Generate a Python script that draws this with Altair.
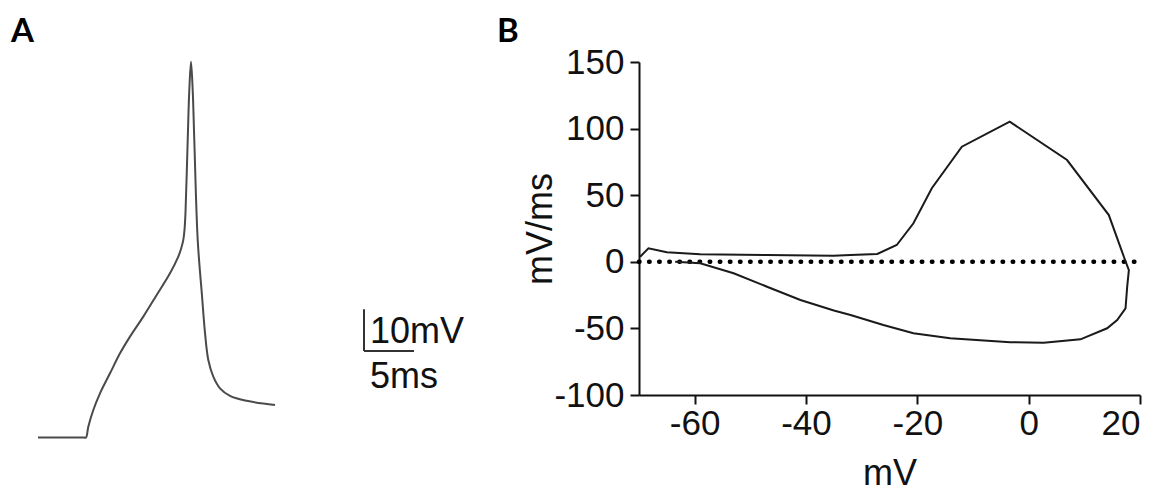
import altair as alt
import pandas as pd

# ---------------- Panel A: action potential trace (time in ms, voltage in mV)
ap_time_ms = [0.0, 2.4, 4.6, 4.8, 5.03, 5.53, 6.2, 7.2, 8.2, 9.2, 10.53, 11.87, 13.2,
              14.03, 14.3, 14.53, 14.65, 14.75, 14.97, 15.13, 15.3, 15.47, 15.63,
              15.97, 16.4, 16.7, 17.03, 17.53, 18.2, 19.2, 20.87, 23.7]
ap_mv = [-70.0, -70.0, -70.0, -70.0, -67.4, -63.4, -59.4, -54.6, -49.8, -45.8,
         -41.0, -35.8, -30.6, -26.6, -24.8, -22.6, -20.2, -16.0, 1.3, 13.3, 20.1,
         13.3, 1.3, -22.6, -36.0, -44.9, -51.4, -55.4, -58.2, -60.0, -61.2, -62.2]

# scale bar: 5 ms x 10 mV
bar_t0, bar_v0 = 32.6, -49.26
bar_dt, bar_dv = 5.0, 10.0
bar_labels = ["10mV", "5ms"]

# ---------------- Panel B: phase plot (dV/dt vs V)
phase_mv = [-69.8, -68.3, -65.0, -59.0, -47.0, -35.1, -32.0, -27.2, -23.7, -20.7,
            -17.4, -12.0, -3.4, 6.9, 14.4, 17.1, 18.0, 17.7, 17.4, 15.9, 14.1,
            9.3, 2.7, -3.3, -14.1, -20.7, -26.1, -32.0, -35.0, -41.0, -47.0,
            -53.0, -59.0, -63.5]
phase_dvdt = [3.8, 10.1, 7.1, 5.6, 5.1, 4.6, 5.1, 5.9, 12.6, 28.9, 55.2, 86.4,
              105.2, 76.4, 35.1, 3.8, -6.2, -18.7, -34.9, -43.7, -49.9, -58.2,
              -60.7, -60.4, -57.4, -53.7, -47.4, -39.9, -36.5, -28.7, -18.7,
              -8.6, -1.1, 0.0]
x_ticks = [-60, -40, -20, 0, 20]
y_ticks = [-100, -50, 0, 50, 100, 150]
panel_letters = ["A", "B"]

FONT = "Liberation Sans"

# ---------- panel B (primary frame)
df_phase = pd.DataFrame({"mv": phase_mv, "dvdt": phase_dvdt,
                         "order": list(range(len(phase_mv)))})
xb_scale = alt.Scale(domain=[-70, 20], nice=False, zero=False)
yb_scale = alt.Scale(domain=[-100, 150], nice=False, zero=False)

xb_axis = alt.Axis(values=x_ticks, title="mV", orient="bottom",
                   labelExpr="toString(datum.value)", labelPadding=2,
                   titleBaseline="alphabetic", titleY=89)
yb_axis = alt.Axis(values=y_ticks, title="mV/ms", orient="left",
                   labelExpr="toString(datum.value)", labelPadding=6,
                   titleX=-80)

phase_line = alt.Chart(df_phase).mark_line(color="#1a1a1a", strokeWidth=2).encode(
    x=alt.X("mv:Q", scale=xb_scale, axis=xb_axis),
    y=alt.Y("dvdt:Q", scale=yb_scale, axis=yb_axis),
    order="order:Q",
)

df_zero = pd.DataFrame({"x0": [-70], "x1": [20], "y": [0]})
zero_line = alt.Chart(df_zero).mark_rule(
    color="#000000", strokeWidth=4.5, strokeDash=[0.5, 9.6], strokeCap="round"
).encode(
    x=alt.X("x0:Q", scale=xb_scale),
    x2="x1:Q",
    y=alt.Y("y:Q", scale=yb_scale),
)

df_letters = pd.DataFrame({"lab": panel_letters, "px": [-628, -142]})
letters = alt.Chart(df_letters).mark_text(
    font="Lato", fontWeight="bold", fontSize=33, align="left",
    baseline="alphabetic", color="black"
).encode(
    x=alt.X("px:Q", scale=None),
    y=alt.value(-20),
    text="lab:N",
)

panel_b = alt.layer(zero_line, phase_line, letters)

# ---------- panel A (own scales, mapped to the same canvas)
df_ap = pd.DataFrame({"t": ap_time_ms, "v": ap_mv})
xa_scale = alt.Scale(domain=[60.1, 110.2], nice=False, zero=False)
ya_scale = alt.Scale(domain=[-59.8, 20.05], nice=False, zero=False)

ap_line = alt.Chart(df_ap).mark_line(
    color="#4a4a4a", strokeWidth=2, interpolate="catmull-rom", clip=False
).encode(
    x=alt.X("t:Q", scale=xa_scale, axis=None),
    y=alt.Y("v:Q", scale=ya_scale, axis=None),
)

df_bar = pd.DataFrame({
    "t0": [bar_t0, bar_t0], "t1": [bar_t0, bar_t0 + bar_dt],
    "v0": [bar_v0, bar_v0], "v1": [bar_v0 + bar_dv, bar_v0],
})
scale_bar = alt.Chart(df_bar).mark_rule(color="#333333", strokeWidth=2).encode(
    x=alt.X("t0:Q", scale=xa_scale, axis=None), x2="t1:Q",
    y=alt.Y("v0:Q", scale=ya_scale, axis=None), y2="v1:Q",
)

df_bar_text = pd.DataFrame({"lab": bar_labels, "t": [bar_t0 + 0.6, bar_t0 + 0.6],
                            "v": [bar_v0 + 1.95, bar_v0 - 8.85]})
bar_text = alt.Chart(df_bar_text).mark_text(
    font=FONT, fontSize=36, align="left", baseline="alphabetic", color="#111111"
).encode(
    x=alt.X("t:Q", scale=xa_scale, axis=None),
    y=alt.Y("v:Q", scale=ya_scale, axis=None),
    text="lab:N",
)

panel_a = alt.layer(ap_line, scale_bar, bar_text)

chart = alt.layer(panel_b, panel_a).resolve_scale(
    x="independent", y="independent"
).properties(
    width=501, height=333,
    autosize=alt.AutoSizeParams(type="none"),
    padding={"left": 639, "top": 62, "right": 28, "bottom": 98},
    background="white",
).configure_view(stroke=None).configure_axis(
    grid=False, domainColor="#111111", domainWidth=2, tickColor="#111111",
    tickWidth=2, tickSize=9, labelFont=FONT, labelFontSize=35,
    labelColor="#111111", titleFont=FONT, titleFontSize=36,
    titleFontWeight="normal", titleColor="#111111",
)

chart.save("out.html", embed_options={"renderer": "svg", "actions": False})
